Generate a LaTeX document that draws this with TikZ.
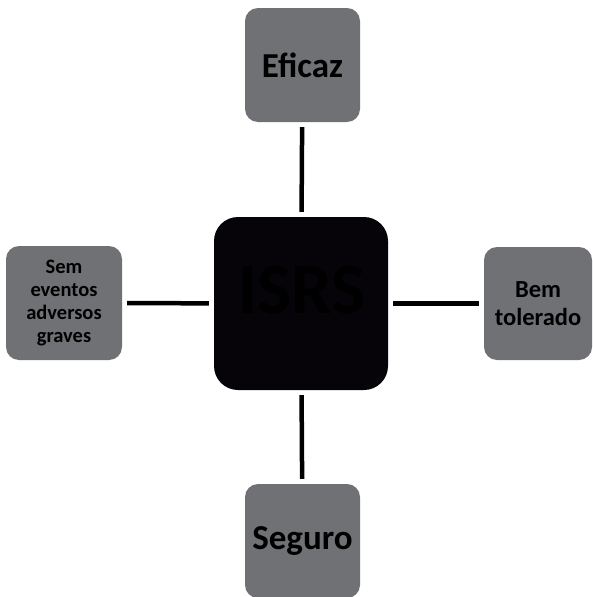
\documentclass[tikz,border=0pt]{standalone}
\usepackage{fontspec}
\setmainfont{Carlito}

\definecolor{boxgray}{RGB}{111,113,116}
\definecolor{coreblack}{RGB}{6,4,9}

\tikzset{
  side/.style={draw=none,fill=boxgray,rounded corners=13pt,align=center,
    inner sep=0pt,font=\bfseries,text=black},
  link/.style={line width=4.5pt,shorten <=5pt,shorten >=5pt}
}

\begin{document}
\begin{tikzpicture}[x=1pt,y=1pt]
    \useasboundingbox (0,0) rectangle (593,-597);

    \node[fill=coreblack,rounded corners=24pt,minimum width=174pt,minimum height=173pt] (isrs) at (301,-303.5) {};
    \node[font=\fontsize{72}{72}\selectfont\bfseries,text=black] at (302,-290) {ISRS};

    \node[side,minimum width=115pt,minimum height=114pt,font=\fontsize{35}{38}\selectfont\bfseries] (eficaz) at (302.5,-65) {Eficaz};
    \node[side,minimum width=115pt,minimum height=114pt,font=\fontsize{35}{38}\selectfont\bfseries] (seguro) at (302.5,-541) {Seguro};
    \node[side,minimum width=116pt,minimum height=114pt,font=\fontsize{20.5}{23}\selectfont\bfseries] (sem) at (64,-303) {Sem\\eventos\\adversos\\graves};
    \node[side,minimum width=108pt,minimum height=113pt,font=\fontsize{24.5}{28}\selectfont\bfseries] (bem) at (538,-303.5) {Bem\\tolerado};

    \draw[link] (eficaz) -- (isrs);
    \draw[link] (isrs) -- (seguro);
    \draw[link] (sem) -- (isrs);
    \draw[link] (isrs) -- (bem);
\end{tikzpicture}
\end{document}
